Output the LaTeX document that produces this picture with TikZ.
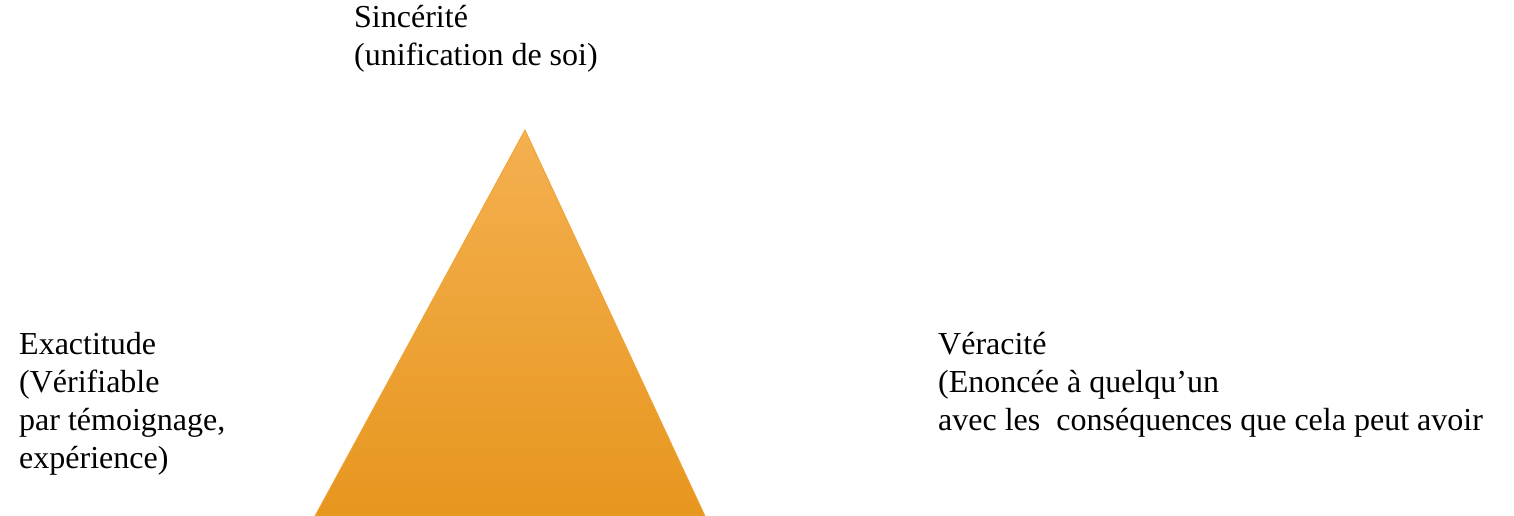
\documentclass[tikz,border=0pt]{standalone}
\usepackage{fontspec}
\setmainfont{Liberation Serif}
\definecolor{triTop}{RGB}{244,176,80}
\definecolor{triMid}{RGB}{248,166,38}
\definecolor{triBot}{RGB}{231,150,30}
\definecolor{triEdge}{RGB}{240,162,50}
\begin{document}
\begin{tikzpicture}[x=1pt,y=1pt,
  lbl/.style={anchor=base west, align=left, inner sep=0pt, font=\fontsize{32}{38}\selectfont}]
\useasboundingbox (0,0) rectangle (1514,-516);
\coordinate (apex) at (525,-130);
\coordinate (bl) at (315,-516);
\coordinate (br) at (705,-516);
\shade[top color=triTop, middle color=triMid, bottom color=triBot, draw=triEdge, line width=0.8pt]
  (apex) -- (br) -- (bl) -- cycle;
\node[lbl] (sinc) at (354,-66) {Sincérité\\(unification de soi)};
\node[lbl] (exact) at (19,-468) {Exactitude\\(Vérifiable\\par témoignage,\\expérience)};
\node[lbl] (verac) at (938,-430) {Véracité\\(Enoncée à quelqu’un\\avec les\ \ conséquences que cela peut avoir};
\end{tikzpicture}
\end{document}
